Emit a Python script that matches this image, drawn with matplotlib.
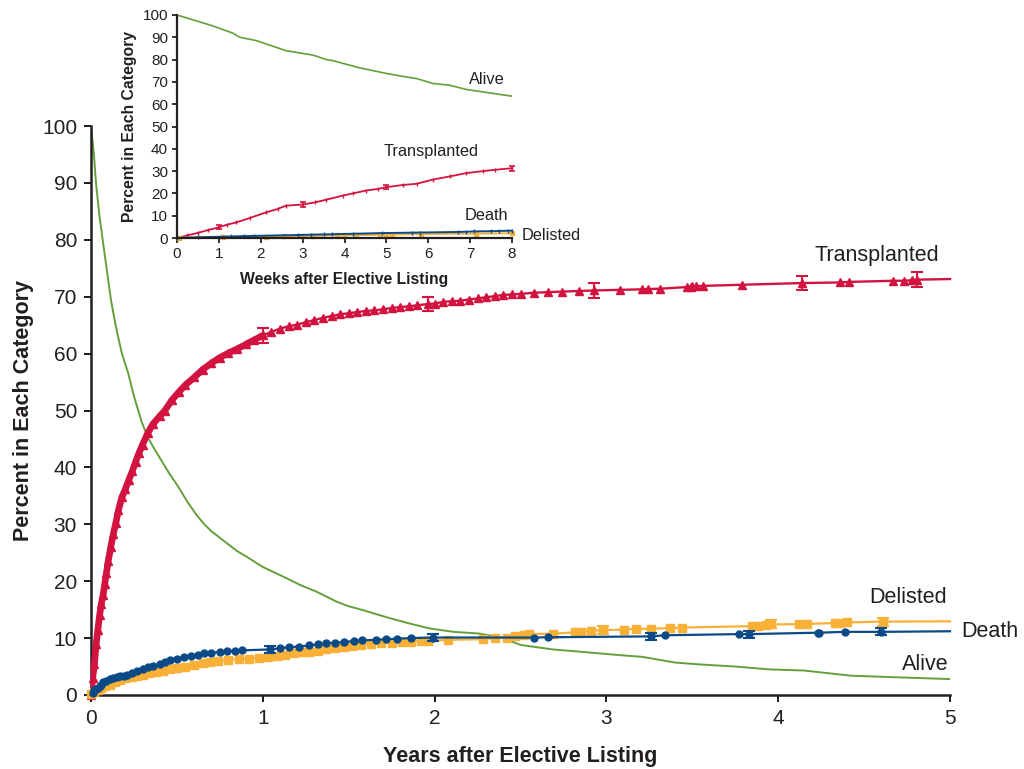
import numpy as np
import matplotlib
matplotlib.use("Agg")
import matplotlib.pyplot as plt

plt.rcParams["font.family"] = ["Liberation Sans", "DejaVu Sans"]

TXT = "#231f20"
RED = "#d2133f"
BLUE = "#0b4a86"
ORANGE = "#f8b136"
GREEN = "#64a03a"

# ---- main panel: years after listing ----
alive_t = [0.0, 0.017, 0.029, 0.05, 0.068, 0.085, 0.096, 0.117, 0.14, 0.153, 0.18, 0.217, 0.25,
           0.295, 0.33, 0.36, 0.41, 0.45, 0.508, 0.56, 0.615, 0.66, 0.70, 0.79, 0.85, 0.906,
           1.0, 1.07, 1.14, 1.22, 1.31, 1.43, 1.5, 1.585, 1.65, 1.74, 1.85, 1.97, 2.11, 2.26,
           2.4, 2.5, 2.69, 2.85, 3.08, 3.21, 3.4, 3.53, 3.75, 3.95, 4.15, 4.3, 4.42, 4.7, 5.0]
alive_y = [100, 95, 90, 84, 80, 76.3, 73.8, 69.3, 65.5, 63.6, 60.0, 56.5, 52.5,
           48.0, 45.3, 43.7, 41.2, 39.2, 36.6, 34.0, 31.6, 30.0, 28.8, 26.7, 25.3, 24.3,
           22.5, 21.5, 20.5, 19.3, 18.2, 16.4, 15.6, 14.9, 14.3, 13.5, 12.6, 11.7, 11.1, 10.8,
           10.0, 8.8, 8.0, 7.6, 7.0, 6.7, 5.7, 5.4, 5.0, 4.5, 4.3, 3.8, 3.4, 3.1, 2.8]

tx_t = [0.0, 0.01, 0.02, 0.03, 0.04, 0.05, 0.06, 0.07, 0.08, 0.09, 0.10, 0.115, 0.13, 0.145,
        0.16, 0.18, 0.20, 0.22, 0.24, 0.26, 0.28, 0.30, 0.33, 0.36, 0.40, 0.43, 0.47, 0.51,
        0.55, 0.60, 0.65, 0.70, 0.75, 0.80, 0.85, 0.90, 0.95, 1.00, 1.05, 1.10, 1.15, 1.20,
        1.25, 1.30, 1.35, 1.40, 1.45, 1.50, 1.55, 1.60, 1.65, 1.70, 1.75, 1.80, 1.85, 1.90,
        1.96, 2.00, 2.05, 2.10, 2.15, 2.20, 2.25, 2.30, 2.35, 2.40, 2.45, 2.50, 2.58, 2.66,
        2.74, 2.84, 2.93, 3.08, 3.21, 3.24, 3.31, 3.47, 3.49, 3.50, 3.52, 3.56, 3.79, 4.14,
        4.36, 4.41, 4.67, 4.73, 4.78, 4.81, 5.0]
tx_y = [0.0, 3.0, 5.5, 9.0, 11.5, 14.0, 16.0, 17.5, 19.5, 21.5, 23.5, 26.0, 28.3, 30.3,
        32.5, 34.8, 36.2, 37.8, 39.3, 41.0, 42.6, 44.0, 46.0, 47.6, 49.0, 50.0, 51.8, 53.2,
        54.5, 55.8, 57.2, 58.3, 59.3, 60.1, 60.8, 61.6, 62.4, 63.2, 63.8, 64.4, 64.8, 65.1,
        65.5, 65.9, 66.3, 66.6, 66.9, 67.1, 67.3, 67.5, 67.6, 67.8, 68.0, 68.2, 68.3, 68.5,
        68.7, 68.8, 69.1, 69.2, 69.3, 69.5, 69.7, 69.9, 70.1, 70.3, 70.4, 70.5, 70.7, 70.8,
        70.9, 71.0, 71.1, 71.2, 71.3, 71.35, 71.4, 71.7, 71.75, 71.8, 71.85, 71.9, 72.1, 72.4,
        72.5, 72.6, 72.8, 72.8, 72.9, 73.0, 73.1]
tx_err_t = [1.00, 1.96, 2.93, 4.14, 4.81]
tx_err_y = [63.2, 68.7, 71.1, 72.4, 73.0]
tx_err = [1.3, 1.3, 1.3, 1.3, 1.3]

death_t = [0.0, 0.01, 0.02, 0.03, 0.04, 0.05, 0.06, 0.072, 0.09, 0.11, 0.13, 0.15, 0.17, 0.19,
           0.21, 0.24, 0.27, 0.30, 0.33, 0.36, 0.40, 0.43, 0.46, 0.50, 0.54, 0.58, 0.62, 0.66,
           0.70, 0.75, 0.79, 0.84, 0.88, 1.04, 1.10, 1.15, 1.21, 1.27, 1.32, 1.37, 1.42, 1.47,
           1.53, 1.58, 1.66, 1.72, 1.78, 1.86, 1.99, 2.58, 2.66, 3.26, 3.34, 3.77, 3.83, 4.23,
           4.24, 4.39, 4.60, 5.0]
death_y = [0.0, 0.4, 0.8, 1.1, 1.3, 1.6, 1.8, 2.2, 2.5, 2.8, 3.0, 3.2, 3.3, 3.4,
           3.6, 3.9, 4.3, 4.6, 4.9, 5.1, 5.4, 5.8, 6.1, 6.4, 6.6, 6.9, 7.1, 7.3,
           7.4, 7.6, 7.7, 7.8, 7.85, 8.0, 8.2, 8.4, 8.5, 8.7, 8.9, 9.1, 9.2, 9.3,
           9.5, 9.6, 9.7, 9.8, 9.9, 10.0, 10.1, 10.1, 10.15, 10.3, 10.5, 10.7, 10.7, 10.95,
           10.95, 11.1, 11.1, 11.2]
death_err_t = [1.04, 1.99, 3.26, 3.83, 4.60]
death_err_y = [8.0, 10.1, 10.3, 10.7, 11.1]
death_err = [0.6, 0.6, 0.6, 0.6, 0.6]

delist_t = [0.0, 0.02, 0.04, 0.06, 0.08, 0.11, 0.14, 0.17, 0.20, 0.24, 0.27, 0.30, 0.34, 0.38,
            0.42, 0.46, 0.50, 0.55, 0.60, 0.65, 0.69, 0.74, 0.80, 0.86, 0.92, 0.98, 1.03, 1.08,
            1.13, 1.18, 1.23, 1.27, 1.32, 1.37, 1.42, 1.47, 1.52, 1.57, 1.63, 1.69, 1.75, 1.81,
            1.86, 1.92, 1.96, 2.08, 2.28, 2.35, 2.42, 2.47, 2.52, 2.55, 2.69, 2.82, 2.85, 2.91,
            2.98, 3.10, 3.17, 3.26, 3.37, 3.44, 3.85, 3.88, 3.93, 3.96, 4.12, 4.17, 4.33, 4.36,
            4.40, 4.61, 5.0]
delist_y = [0.2, 0.6, 0.9, 1.2, 1.5, 1.75, 2.2, 2.6, 2.9, 3.2, 3.4, 3.6, 3.9, 4.1,
            4.3, 4.5, 4.7, 5.0, 5.3, 5.6, 5.85, 6.0, 6.2, 6.3, 6.4, 6.5, 6.7, 6.9,
            7.1, 7.3, 7.5, 7.6, 7.8, 8.0, 8.2, 8.4, 8.6, 8.8, 9.0, 9.1, 9.2, 9.3,
            9.4, 9.5, 9.5, 9.7, 9.8, 10.0, 10.1, 10.3, 10.5, 10.7, 10.8, 11.0, 11.1, 11.3,
            11.4, 11.5, 11.6, 11.65, 11.75, 11.85, 12.1, 12.2, 12.3, 12.4, 12.45, 12.5, 12.65, 12.7,
            12.75, 12.9, 12.95]
delist_err_t = [2.98, 3.96, 4.61]
delist_err_y = [11.4, 12.4, 12.9]
delist_err = [0.7, 0.7, 0.7]

# ---- inset: weeks after listing ----
w_alive_t = [0, 0.86, 1.34, 1.5, 1.9, 2.6, 2.77, 3.25, 3.57, 3.73, 4.36, 5.0, 5.32, 5.72,
             6.11, 6.51, 6.91, 7.31, 8.0]
w_alive_y = [100, 95.1, 91.8, 90.0, 88.5, 84.0, 83.5, 82.0, 80.0, 79.5, 76.3, 73.8, 72.7, 71.5,
             69.3, 68.5, 66.6, 65.5, 63.6]

w_tx_t = [0, 0.25, 0.5, 0.75, 1.0, 1.2, 1.42, 1.74, 2.13, 2.4, 2.6, 3.0, 3.3, 3.57, 3.96,
          4.2, 4.52, 4.8, 5.0, 5.4, 5.72, 6.11, 6.51, 6.91, 7.31, 7.6, 8.0]
w_tx_y = [0, 1.2, 2.3, 3.6, 4.8, 6.0, 7.0, 9.0, 11.5, 13.0, 14.5, 15.0, 16.0, 17.2, 19.0,
          20.0, 21.3, 22.0, 22.8, 23.8, 24.3, 26.2, 27.6, 29.1, 30.0, 30.6, 31.3]
w_tx_err_t = [1, 3, 5, 8]
w_tx_err_y = [4.8, 15.0, 22.8, 31.3]
w_tx_err = [0.9, 1.0, 1.0, 1.1]

w_death_t = [0, 0.5, 1.3, 1.6, 1.85, 2.9, 3.2, 3.5, 3.7, 4.2, 4.9, 5.6, 5.8, 6.7, 6.9,
             7.1, 7.5, 7.7, 7.9, 8.0]
w_death_y = [0, 0.3, 0.7, 0.85, 0.95, 1.35, 1.5, 1.6, 1.7, 1.9, 2.2, 2.4, 2.45, 2.7, 2.8,
             2.95, 3.05, 3.15, 3.25, 3.3]

w_delist_t = [0.05, 1.11, 2.12, 2.56, 2.99, 3.25, 3.83, 3.99, 4.27, 4.84, 5.0, 5.13, 5.83,
              7.15, 8.0]
w_delist_y = [0.2, 0.35, 0.45, 0.7, 0.9, 1.0, 1.2, 1.25, 1.3, 1.45, 1.5, 1.55, 1.8,
              1.95, 2.1]


def style_axes(ax, lw, size, length, pad):
    for side in ("top", "right"):
        ax.spines[side].set_visible(False)
    for side in ("left", "bottom"):
        ax.spines[side].set_linewidth(lw)
        ax.spines[side].set_color(TXT)
    ax.tick_params(direction="out", length=length, width=lw * 0.8, colors=TXT,
                   labelsize=size, labelcolor=TXT, pad=pad)


fig = plt.figure(figsize=(10.24, 7.69), dpi=100)
ax = fig.add_axes([91 / 1024, 74 / 769, 859 / 1024, 569 / 769])

ax.plot(alive_t, alive_y, color=GREEN, lw=1.4, zorder=2)

# dense early part of the transplant curve reads as a solid band
tx_t_arr = np.array(tx_t)
early = tx_t_arr <= 1.0
ax.plot(tx_t_arr[early], np.array(tx_y)[early], color=RED, lw=4.8, zorder=3,
        solid_capstyle="round")
ax.plot(tx_t, tx_y, color=RED, lw=1.7, marker="^", ms=6, markevery=slice(0, -1),
        zorder=4, clip_on=False)
ax.errorbar(tx_err_t, tx_err_y, yerr=tx_err, fmt="none", ecolor=RED, elinewidth=1.5,
            capsize=4.5, capthick=1.5, zorder=4)

ax.plot(delist_t, delist_y, color=ORANGE, lw=1.6, marker="s", ms=5.5,
        markevery=slice(0, -1), zorder=4, clip_on=False)
ax.errorbar(delist_err_t, delist_err_y, yerr=delist_err, fmt="none", ecolor=ORANGE,
            elinewidth=1.5, capsize=4, capthick=1.5, zorder=4)

ax.plot(death_t, death_y, color=BLUE, lw=1.6, marker="o", ms=5, markevery=slice(1, -1),
        zorder=5, clip_on=False)
ax.errorbar(death_err_t, death_err_y, yerr=death_err, fmt="none", ecolor=BLUE,
            elinewidth=1.5, capsize=4, capthick=1.5, zorder=5)

ax.set_xlim(0, 5)
ax.set_ylim(0, 100)
ax.set_xticks(range(0, 6))
ax.set_yticks(range(0, 101, 10))
style_axes(ax, 1.8, 15, 5, 5)
ax.set_xlabel("Years after Elective Listing", fontsize=15.5, fontweight="bold", color=TXT,
              labelpad=13)
ax.set_ylabel("Percent in Each Category", fontsize=15.5, fontweight="bold", color=TXT,
              labelpad=6)

ax.text(4.214, 77.2, "Transplanted", fontsize=15.5, color=TXT, va="center", ha="left")
ax.text(4.53, 17.2, "Delisted", fontsize=15.5, color=TXT, va="center", ha="left")
ax.text(5.064, 11.1, "Death", fontsize=15.5, color=TXT, va="center", ha="left", clip_on=False)
ax.text(4.72, 5.3, "Alive", fontsize=15.5, color=TXT, va="center", ha="left")

# inset: first eight weeks
ins = fig.add_axes([177 / 1024, 531 / 769, 335 / 1024, 223 / 769])
ins.set_facecolor("none")
ins.plot(w_alive_t, w_alive_y, color=GREEN, lw=1.2)
ins.plot(w_tx_t, w_tx_y, color=RED, lw=1.3, marker="|", ms=3, markeredgewidth=1,
         clip_on=False)
ins.errorbar(w_tx_err_t, w_tx_err_y, yerr=w_tx_err, fmt="none", ecolor=RED, elinewidth=1.2,
             capsize=2.5, capthick=1.2, clip_on=False)
ins.plot(w_delist_t, w_delist_y, color=ORANGE, lw=1.4, marker="s", ms=3, clip_on=False)
ins.plot(w_death_t, w_death_y, color=BLUE, lw=1.4, marker="|", ms=3, markeredgewidth=1,
         clip_on=False)
ins.set_xlim(0, 8)
ins.set_ylim(0, 100)
ins.set_xticks(range(0, 9))
ins.set_yticks(range(0, 101, 10))
style_axes(ins, 1.6, 11, 3.5, 3)
ins.set_xlabel("Weeks after Elective Listing", fontsize=11.3, fontweight="bold", color=TXT,
               labelpad=8)
ins.set_ylabel("Percent in Each Category", fontsize=11.3, fontweight="bold", color=TXT,
               labelpad=4)

ins.text(7.4, 70.9, "Alive", fontsize=11.8, color=TXT, ha="center", va="center")
ins.text(6.08, 38.7, "Transplanted", fontsize=11.8, color=TXT, ha="center", va="center")
ins.text(7.38, 10.3, "Death", fontsize=11.8, color=TXT, ha="center", va="center")
ins.text(8.23, 1.3, "Delisted", fontsize=11.8, color=TXT, ha="left", va="center",
         clip_on=False)

fig.savefig("out.png", dpi=100)
